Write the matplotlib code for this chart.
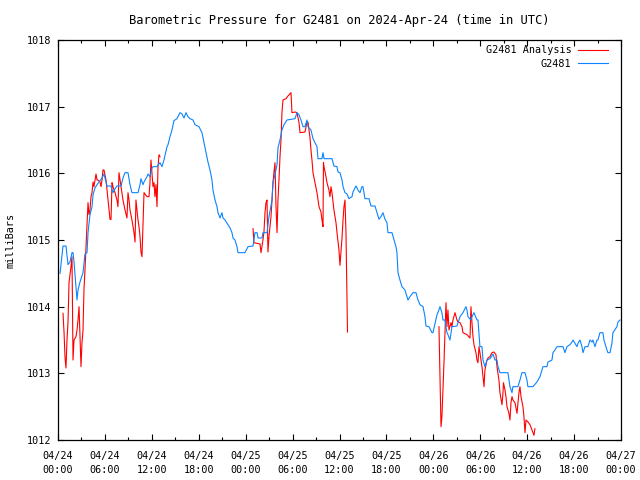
import matplotlib
matplotlib.use("Agg")
import matplotlib.pyplot as plt
import numpy as np

# hours since 2024-04-24 00:00 UTC, pressure in mbar
station_h = [0.26, 0.64, 1.02, 1.28, 1.53, 1.79, 1.92, 2.05, 2.30, 2.43, 2.56, 2.81, 3.20, 3.45,
             3.71, 3.84, 4.09, 4.35, 4.48, 4.73, 4.99, 5.24, 5.63, 5.88, 6.14, 6.27, 6.78, 6.91,
             7.03, 7.29, 7.54, 8.06, 8.31, 8.57, 8.95, 9.21, 9.46, 10.23, 10.49, 10.61, 10.87, 11.00,
             11.38, 11.51, 11.76, 12.02, 12.15, 12.66, 13.04, 13.30, 13.55, 13.94, 14.07, 14.32, 14.58,
             14.83, 15.22, 15.60, 15.86, 16.11, 16.37, 16.62, 16.88, 17.26, 17.52, 18.03, 18.41, 18.67,
             18.93, 19.18, 19.44, 19.69, 19.82, 20.08, 20.33, 20.46, 20.72, 20.97, 21.10, 21.36, 21.74,
             22.00, 22.25, 22.38, 22.63, 22.89, 23.02, 23.91, 24.30, 24.94, 25.19, 25.45, 25.58, 26.09,
             26.21, 26.73, 26.98, 27.37, 27.49, 27.75, 28.01, 28.13, 28.39, 28.64, 28.90, 29.28, 30.31,
             30.56, 30.82, 31.07, 31.33, 31.59, 31.84, 31.97, 32.35, 32.61, 33.12, 33.25, 33.76, 33.89,
             34.02, 35.04, 35.29, 35.68, 35.81, 36.06, 36.32, 36.45, 36.70, 36.96, 37.21, 37.60, 37.72,
             38.11, 38.36, 38.62, 38.87, 39.00, 39.26, 39.77, 40.03, 40.54, 40.79, 41.05, 41.30, 41.56,
             41.82, 42.07, 42.20, 42.71, 42.97, 43.22, 43.35, 43.48, 43.73, 43.99, 44.37, 44.63, 44.76,
             45.01, 45.40, 45.78, 46.04, 46.29, 46.68, 46.93, 47.06, 47.44, 47.83, 47.95, 48.47, 48.59,
             48.85, 49.10, 49.23, 49.49, 49.74, 49.87, 50.13, 50.38, 51.02, 51.41, 51.79, 52.17, 52.30,
             52.43, 52.81, 52.94, 53.20, 53.58, 53.71, 53.96, 54.22, 54.35, 54.60, 54.86, 55.24, 55.63,
             55.88, 56.14, 56.27, 56.52, 57.54, 57.80, 58.06, 58.18, 58.82, 59.08, 59.34, 59.72, 59.97,
             60.10, 60.74, 61.25, 61.64, 62.02, 62.53, 62.66, 63.17, 63.30, 63.55, 63.81, 64.58, 64.83,
             65.09, 65.47, 65.73, 65.86, 66.11, 66.37, 66.50, 66.75, 67.01, 67.14, 67.39, 67.77, 68.03,
             68.29, 68.41, 68.67, 68.93, 69.05, 69.31, 69.69, 69.82, 70.20, 70.33, 70.59, 70.84, 70.97,
             71.48, 71.61, 71.87]
station_p = [1014.50, 1014.91, 1014.91, 1014.63, 1014.67, 1014.81, 1014.81, 1014.67, 1014.30, 1014.10,
             1014.25, 1014.37, 1014.51, 1014.79, 1014.81, 1015.11, 1015.38, 1015.50, 1015.68, 1015.78,
             1015.83, 1015.87, 1015.93, 1015.99, 1015.87, 1015.81, 1015.81, 1015.75, 1015.71, 1015.77,
             1015.81, 1015.81, 1015.93, 1016.01, 1016.01, 1015.83, 1015.71, 1015.71, 1015.83, 1015.92,
             1015.83, 1015.87, 1015.95, 1015.99, 1015.95, 1016.08, 1016.10, 1016.10, 1016.16, 1016.10,
             1016.20, 1016.40, 1016.43, 1016.55, 1016.65, 1016.79, 1016.82, 1016.91, 1016.89, 1016.83,
             1016.91, 1016.85, 1016.82, 1016.80, 1016.73, 1016.70, 1016.61, 1016.46, 1016.31, 1016.17,
             1016.05, 1015.90, 1015.75, 1015.60, 1015.50, 1015.41, 1015.33, 1015.41, 1015.33, 1015.30,
             1015.23, 1015.18, 1015.11, 1015.03, 1015.00, 1014.90, 1014.81, 1014.81, 1014.90, 1014.91,
             1015.11, 1015.11, 1015.03, 1015.03, 1015.11, 1015.11, 1015.35, 1015.60, 1015.86, 1015.98,
             1016.13, 1016.38, 1016.50, 1016.65, 1016.73, 1016.80, 1016.82, 1016.91, 1016.88, 1016.80,
             1016.70, 1016.70, 1016.80, 1016.70, 1016.65, 1016.52, 1016.40, 1016.22, 1016.22, 1016.31,
             1016.22, 1016.22, 1016.11, 1016.10, 1016.02, 1016.01, 1015.90, 1015.80, 1015.71, 1015.69,
             1015.62, 1015.65, 1015.72, 1015.81, 1015.75, 1015.71, 1015.80, 1015.80, 1015.62, 1015.62,
             1015.51, 1015.51, 1015.41, 1015.31, 1015.35, 1015.41, 1015.31, 1015.26, 1015.11, 1015.11,
             1015.00, 1014.90, 1014.81, 1014.51, 1014.40, 1014.30, 1014.25, 1014.15, 1014.10, 1014.15,
             1014.21, 1014.21, 1014.10, 1014.03, 1014.00, 1013.85, 1013.71, 1013.70, 1013.61, 1013.61,
             1013.88, 1013.91, 1014.00, 1013.91, 1013.80, 1013.80, 1013.61, 1013.58, 1013.50, 1013.70,
             1013.71, 1013.85, 1013.91, 1014.00, 1013.95, 1013.85, 1013.80, 1013.85, 1013.91, 1013.80,
             1013.80, 1013.40, 1013.40, 1013.20, 1013.10, 1013.20, 1013.22, 1013.29, 1013.20, 1013.20,
             1013.10, 1013.01, 1013.01, 1012.80, 1012.71, 1012.80, 1012.80, 1012.90, 1013.01, 1013.01,
             1012.90, 1012.80, 1012.80, 1012.87, 1012.95, 1013.10, 1013.10, 1013.17, 1013.20, 1013.31,
             1013.35, 1013.40, 1013.40, 1013.31, 1013.40, 1013.43, 1013.47, 1013.50, 1013.45, 1013.40,
             1013.45, 1013.50, 1013.40, 1013.31, 1013.40, 1013.40, 1013.50, 1013.47, 1013.50, 1013.40,
             1013.50, 1013.50, 1013.61, 1013.61, 1013.50, 1013.35, 1013.31, 1013.31, 1013.45, 1013.61,
             1013.70, 1013.77, 1013.80]

nan = float("nan")
analysis_h = [0.64, 0.77, 0.90, 1.02, 1.15, 1.28, 1.41, 1.66, 1.79, 1.92, 2.05, 2.30, 2.43, 2.56, 2.69,
              2.94, 3.07, 3.20, 3.32, 3.45, 3.58, 3.71, 3.84, 3.96, 4.09, 4.22, 4.35, 4.48, 4.60, 4.86,
              4.99, 5.12, 5.37, 5.50, 5.63, 5.75, 5.88, 6.14, 6.27, 6.39, 6.52, 6.65, 6.78, 6.91, 7.03,
              7.29, 7.54, 7.67, 7.80, 8.06, 8.18, 8.31, 8.57, 8.82, 8.95, 9.08, 9.21, 9.46, 9.59, 9.72,
              9.85, 9.97, 10.10, 10.23, 10.36, 10.49, 10.61, 10.74, 10.87, 11.00, 11.38, 11.64, 11.76,
              11.89, 12.02, 12.15, 12.28, 12.40, 12.53, 12.66, 12.79, 12.92, 13.04, nan,
              24.94, 25.06, 25.83, 25.96, 26.21, 26.34, 26.47, 26.60, 26.73, 26.85, 26.98, 27.24, 27.37,
              27.49, 27.62, 27.75, 27.88, 28.01, 28.13, 28.26, 28.39, 28.52, 28.64, 28.77, 29.16, 29.41,
              29.80, 29.92, 30.31, 30.56, 30.82, 30.95, 31.59, 31.84, 31.97, 32.23, 32.35, 32.48, 32.61,
              32.86, 33.12, 33.38, 33.63, 33.76, 33.89, 33.95, 34.02, 34.27, 34.40, 34.65, 34.78, 34.91,
              35.04, 35.29, 35.55, 35.68, 35.93, 36.06, 36.32, 36.45, 36.57, 36.70, 36.83, 36.96, 37.02,
              nan,
              48.72, 48.85, 48.98, 49.10, 49.23, 49.36, 49.49, 49.62, 49.74, 49.87, 50.00, 50.26, 50.38,
              50.51, 50.77, 51.02, 51.15, 51.41, 51.66, 51.79, 52.30, 52.69, 52.81, 52.94, 53.07, 53.20,
              53.45, 53.58, 53.71, 53.84, 53.96, 54.09, 54.22, 54.35, 54.48, 54.60, 54.86, 54.99, 55.24,
              55.50, 55.75, 56.01, 56.14, 56.39, 56.52, 56.78, 56.91, 56.97, 57.16, 57.29, 57.42, 57.67,
              57.80, 57.93, 58.06, 58.18, 58.44, 58.57, 58.70, 58.95, 59.08, 59.21, 59.46, 59.59, 59.72,
              59.85, 60.10, 60.36, 60.61, 60.87, 60.99]
analysis_p = [1013.90, 1013.62, 1013.23, 1013.08, 1013.50, 1013.77, 1014.36, 1014.60, 1014.75, 1013.20,
              1013.50, 1013.55, 1013.65, 1013.80, 1014.00, 1013.10, 1013.46, 1013.65, 1014.25, 1014.55,
              1014.90, 1015.23, 1015.56, 1015.38, 1015.45, 1015.65, 1015.71, 1015.87, 1015.80, 1015.99,
              1015.90, 1015.90, 1015.87, 1015.80, 1015.90, 1016.05, 1016.05, 1015.90, 1015.75, 1015.60,
              1015.45, 1015.31, 1015.31, 1015.86, 1015.80, 1015.71, 1015.60, 1015.50, 1016.01, 1015.80,
              1015.71, 1015.60, 1015.45, 1015.33, 1015.71, 1015.60, 1015.45, 1015.30, 1015.20, 1015.11,
              1014.97, 1015.60, 1015.45, 1015.30, 1015.20, 1015.05, 1014.82, 1014.75, 1015.23, 1015.71,
              1015.65, 1015.65, 1015.86, 1016.20, 1016.01, 1015.80, 1015.86, 1015.65, 1015.83, 1015.50,
              1016.10, 1016.28, 1016.25, nan,
              1015.17, 1014.96, 1014.94, 1014.81, 1015.00, 1015.12, 1015.41, 1015.56, 1015.60, 1014.82,
              1015.05, 1015.35, 1015.60, 1015.86, 1016.02, 1016.16, 1015.50, 1015.11, 1015.60, 1015.90,
              1016.25, 1016.50, 1016.91, 1017.10, 1017.12, 1017.16, 1017.21, 1016.91, 1016.92, 1016.91,
              1016.76, 1016.61, 1016.62, 1016.77, 1016.77, 1016.53, 1016.35, 1016.20, 1016.01, 1015.86,
              1015.71, 1015.50, 1015.42, 1015.30, 1015.20, 1016.16, 1016.10, 1015.95, 1015.86, 1015.75,
              1015.65, 1015.80, 1015.71, 1015.45, 1015.26, 1015.11, 1014.85, 1014.62, 1015.03, 1015.30,
              1015.50, 1015.60, 1015.11, 1014.13, 1013.62, nan,
              1013.70, 1012.95, 1012.20, 1012.35, 1012.75, 1013.16, 1013.61, 1014.06, 1013.70, 1013.95,
              1013.65, 1013.76, 1013.70, 1013.80, 1013.91, 1013.80, 1013.77, 1013.76, 1013.70, 1013.61,
              1013.58, 1013.53, 1014.00, 1013.76, 1013.55, 1013.43, 1013.31, 1013.20, 1013.16, 1013.40,
              1013.31, 1013.20, 1013.10, 1012.95, 1012.80, 1013.05, 1013.20, 1013.23, 1013.25, 1013.31,
              1013.32, 1013.28, 1013.10, 1012.90, 1012.71, 1012.53, 1012.71, 1012.86, 1012.75, 1012.65,
              1012.50, 1012.40, 1012.30, 1012.56, 1012.65, 1012.60, 1012.56, 1012.48, 1012.40, 1012.71,
              1012.80, 1012.65, 1012.50, 1012.35, 1012.11, 1012.30, 1012.27, 1012.23, 1012.15, 1012.07,
              1012.17]

tick_days = ["04/24"] * 4 + ["04/25"] * 4 + ["04/26"] * 4 + ["04/27"]
tick_times = ["00:00", "06:00", "12:00", "18:00"] * 3 + ["00:00"]

plt.rcParams['font.family'] = 'DejaVu Sans Mono'
plt.rcParams['font.size'] = 7.3

fig = plt.figure(figsize=(6.4, 4.8), dpi=100)
ax = fig.add_axes([58 / 640, 40 / 480, 563 / 640, 400 / 480])

ax.plot(analysis_h, analysis_p, color='#ff0000', lw=0.8, label='G2481 Analysis')
ax.plot(station_h, station_p, color='#0a84ff', lw=0.8, label='G2481')

ax.set_xlim(0, 72)
ax.set_ylim(1012, 1018)
ax.set_xticks(np.arange(0, 73, 6))
ax.set_xticks(np.arange(0, 73, 3), minor=True)
ax.set_xticklabels([d + "\n" + t for d, t in zip(tick_days, tick_times)], linespacing=1.45)
ax.set_yticks(np.arange(1012, 1019, 1))
ax.tick_params(which='both', direction='in', top=True, right=True, width=0.8)
ax.tick_params(which='major', length=4.5)
ax.tick_params(axis='x', which='major', pad=8)
ax.tick_params(axis='y', which='major', pad=5)
ax.tick_params(which='minor', length=2.5)
for s in ax.spines.values():
    s.set_linewidth(0.9)

ax.set_title("Barometric Pressure for G2481 on 2024-Apr-24 (time in UTC)", pad=11.5)
ax.set_ylabel("milliBars", labelpad=8)

ax.legend(loc='upper right', bbox_to_anchor=(1 - 8 / 563, 1.0), frameon=False,
          markerfirst=False, handlelength=3.0, handletextpad=0.6, labelspacing=0.35,
          borderaxespad=0.3, borderpad=0.2)

fig.savefig("out.png", dpi=100)
